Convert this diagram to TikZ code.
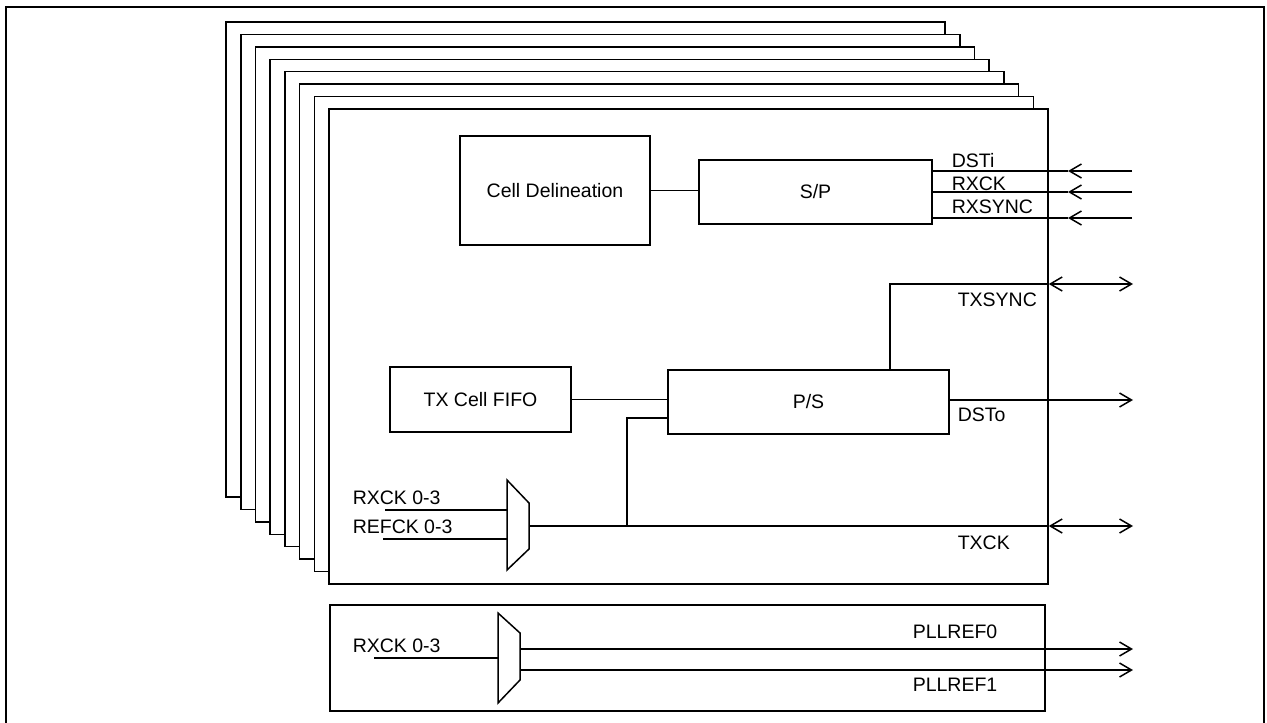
\documentclass[tikz,border=0pt]{standalone}
\usepackage{fontspec}
\setmainfont{Liberation Sans}
\usetikzlibrary{arrows.meta,positioning}

\begin{document}
\begin{tikzpicture}[x=1pt,y=-1pt,line width=1.5pt,font=\fontsize{19.5}{22}\selectfont,
	blk/.style={draw,fill=white,inner sep=0pt},
	lbl/.style={anchor=base west,inner sep=0pt},
	sig/.style={-{Straight Barb[length=12pt,width=14pt]}},
	bidir/.style={{Straight Barb[length=12pt,width=14pt]}-{Straight Barb[length=12pt,width=14pt]}}]
	\useasboundingbox (0,0) rectangle (1267,723);
	\draw[line width=2.8pt] (6,730) -- (6,7) -- (1264,7) -- (1264,730);
	% stacked channels
	\foreach \k in {7,...,1}
		\draw[fill=white] (329-14.7*\k,109-12.43*\k) rectangle ++(719,475);
	\node[blk,minimum width=719pt,minimum height=475pt] (chan) at (688.5,346.5) {};
	\node[blk,minimum width=190pt,minimum height=109pt] (cd) at (555,190.5) {Cell Delineation};
	\node[blk,minimum width=233pt,minimum height=64pt] (sp) at (815.5,192) {S/P};
	\node[blk,minimum width=181pt,minimum height=65pt] (fifo) at (480.5,399.5) {TX Cell FIFO};
	\node[blk,minimum width=281pt,minimum height=64pt] (ps) at (808.5,402) {P/S};
	\node[blk,minimum width=715pt,minimum height=106pt] (pll) at (687.5,658) {};
	% muxes
	\draw (507,480) -- (529,503) -- (529,549) -- (507,570) -- cycle;
	\coordinate (m1out) at (529,526);
	\coordinate (m1a) at (507,510);
	\coordinate (m1b) at (507,539);
	\draw (498,613) -- (520,633) -- (520,680) -- (498,703) -- cycle;
	\coordinate (m2in) at (498,658);
	\coordinate (m2a) at (520,649);
	\coordinate (m2b) at (520,670);
	% ports
	\coordinate (tipx) at (1068,0);
	\coordinate (dsti) at (1132,171);
	\coordinate (rxck) at (1132,192);
	\coordinate (rxsync) at (1132,218);
	\coordinate (txsync) at (1133,284);
	\coordinate (tap) at (890,284);
	\coordinate (dsto) at (1133,400);
	\coordinate (txck) at (1133,526);
	\coordinate (ckt) at (627,526);
	\coordinate (rx0) at (385,510);
	\coordinate (ref0) at (383,539);
	\coordinate (rx1) at (374,658);
	\coordinate (pll0) at (1133,649);
	\coordinate (pll1) at (1133,670);

	\draw (cd.east) -- (cd.east -| sp.west);
	\foreach \p in {dsti,rxck,rxsync} {
		\draw[sig] (\p) -- (\p -| tipx);
		\draw (\p -| tipx) -- (\p -| sp.east);
	}
	\draw (ps.north -| tap) |- (txsync -| chan.east);
	\draw[bidir] (txsync -| chan.east) -- (txsync);
	\draw[sig] (ps.east |- dsto) -- (dsto);
	\draw (fifo.east) -- (fifo.east -| ps.west);
	\draw (m1out) -- (txck -| chan.east);
	\draw[bidir] (txck -| chan.east) -- (txck);
	\draw (ckt) |- ([yshift=-16pt]ps.west);
	\draw (rx0) -- (m1a);
	\draw (ref0) -- (m1b);
	\draw (rx1) -- (m2in);
	\draw[sig] (m2a) -- (pll0);
	\draw[sig] (m2b) -- (pll1);

	\node[lbl] at (951,167) {DSTi};
	\node[lbl] at (951,190) {RXCK};
	\node[lbl] at (951,213) {RXSYNC};
	\node[lbl] at (957,306) {TXSYNC};
	\node[lbl] at (957,421) {DSTo};
	\node[lbl] at (957,549) {TXCK};
	\node[lbl] at (352,504) {RXCK 0-3};
	\node[lbl] at (352,533) {REFCK 0-3};
	\node[lbl] at (352,652) {RXCK 0-3};
	\node[lbl] at (912,638) {PLLREF0};
	\node[lbl] at (912,691) {PLLREF1};
\end{tikzpicture}
\end{document}
